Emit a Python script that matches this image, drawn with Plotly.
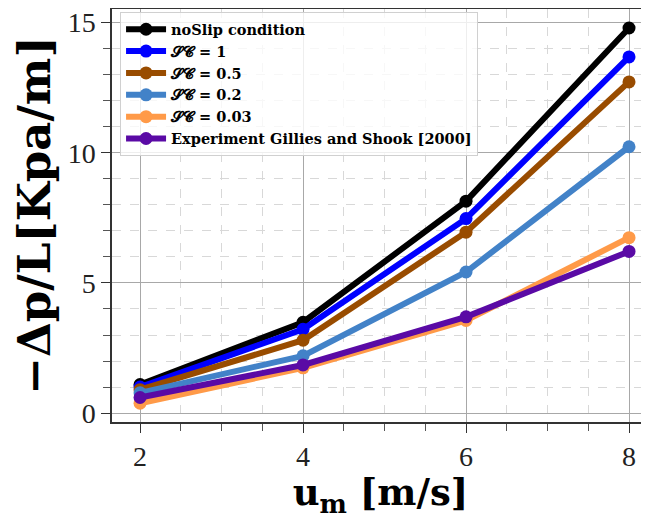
import plotly.graph_objects as go

u_m = [2, 4, 6, 8]
no_slip = [1.10, 3.49, 8.14, 14.79]
sc_1 = [1.00, 3.22, 7.47, 13.68]
sc_05 = [0.90, 2.80, 6.95, 12.72]
sc_02 = [0.78, 2.20, 5.42, 10.23]
sc_003 = [0.38, 1.74, 3.56, 6.74]
experiment = [0.60, 1.85, 3.70, 6.21]

names = ["noSlip condition", "𝓢𝓒 = 1", "𝓢𝓒 = 0.5", "𝓢𝓒 = 0.2", "𝓢𝓒 = 0.03",
         "Experiment Gillies and Shook [2000]"]
series = [no_slip, sc_1, sc_05, sc_02, sc_003, experiment]
colors = ["#000000", "#0000FF", "#994C00", "#4282C8", "#FF9A48", "#5A0AA5"]

fig = go.Figure()
for nm, ys, c in zip(names, series, colors):
    fig.add_trace(go.Scatter(
        x=u_m, y=ys, mode="lines+markers", name="<b>" + nm + "</b>",
        line=dict(color=c, width=6), marker=dict(color=c, size=13),
    ))

serif = "Liberation Serif"
bold_serif = "DejaVu Serif"
# page body has an 8px margin, so the figure is sized to fit the window
fig.update_layout(
    width=641, height=511,
    margin=dict(l=104, r=0, t=1, b=97, autoexpand=False),
    plot_bgcolor="white", paper_bgcolor="white",
    showlegend=True,
    legend=dict(
        x=0.015, y=0.992, xanchor="left", yanchor="top",
        bgcolor="rgba(255,255,255,0.8)", bordercolor="#d0d0d0", borderwidth=1,
        font=dict(family=bold_serif, size=14.5, color="black"),
        tracegroupgap=0, itemwidth=40,
    ),
    font=dict(family=serif, color="black"),
)
fig.update_xaxes(
    range=[1.656, 8.245], tickvals=[2, 4, 6, 8], automargin=False,
    ticklabeloverflow="allow",
    showline=True, linecolor="#333", linewidth=1.5, mirror=True,
    ticks="outside", ticklen=9, tickcolor="#333",
    showgrid=True, gridcolor="#a8a8a8", gridwidth=1,
    zeroline=False,
    tickfont=dict(family=serif, size=28, color="#222"),
    minor=dict(dtick=0.5, showgrid=True, gridcolor="#d8d8d8", griddash="dash",
               ticks="outside", ticklen=7, tickcolor="#555"),
    title=dict(text="<b>u<sub>m</sub> [m/s]</b>", font=dict(family=bold_serif, size=37, color="black"),
               standoff=4),
)
fig.update_yaxes(
    range=[-0.34, 15.52], tickvals=[0, 5, 10, 15], automargin=False,
    ticklabeloverflow="allow",
    showline=True, linecolor="#333", linewidth=1.5,
    ticks="outside", ticklen=9, tickcolor="#333",
    showgrid=True, gridcolor="#a8a8a8", gridwidth=1,
    zeroline=False,
    tickfont=dict(family=serif, size=28, color="#222"),
    minor=dict(dtick=1, showgrid=True, gridcolor="#d8d8d8", griddash="dash",
               ticks="outside", ticklen=7, tickcolor="#555"),
    title=dict(text="<b>−Δp/L[Kpa/m]</b>", font=dict(family=bold_serif, size=45, color="black"),
               standoff=8),
)
fig.write_html("out.html")
